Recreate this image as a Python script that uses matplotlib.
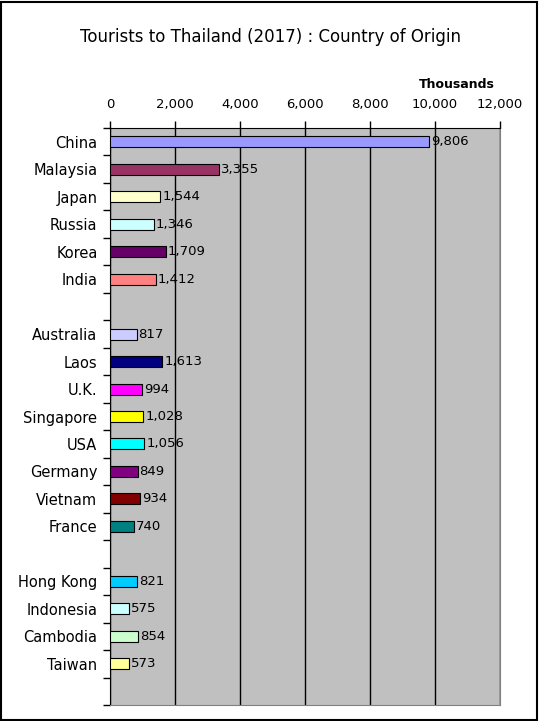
import matplotlib
matplotlib.use("Agg")
import matplotlib.pyplot as plt
from matplotlib.patches import Rectangle

# Categories top to bottom; "" marks an empty slot between groups
countries = ["China", "Malaysia", "Japan", "Russia", "Korea", "India", "",
             "Australia", "Laos", "U.K.", "Singapore", "USA", "Germany",
             "Vietnam", "France", "",
             "Hong Kong", "Indonesia", "Cambodia", "Taiwan", ""]
tourists = [9806, 3355, 1544, 1346, 1709, 1412, None,
            817, 1613, 994, 1028, 1056, 849, 934, 740, None,
            821, 575, 854, 573, None]
colors = ["#9999FF", "#993366", "#FFFFCC", "#CCFFFF", "#660066", "#FF8080", None,
          "#CCCCFF", "#000080", "#FF00FF", "#FFFF00", "#00FFFF", "#800080",
          "#800000", "#008080", None,
          "#00CCFF", "#CCFFFF", "#CCFFCC", "#FFFF99", None]
x_ticks = [0, 2000, 4000, 6000, 8000, 10000, 12000]

plt.rcParams["font.family"] = "DejaVu Sans"

fig = plt.figure(figsize=(5.39, 7.21), dpi=100)
fig.patches.append(Rectangle((0.002, 0.002), 0.994, 0.995, transform=fig.transFigure,
                             fill=False, edgecolor="black", linewidth=1.5))

ax = fig.add_axes([110 / 539, 1 - 705 / 721, 390 / 539, 577 / 721])
ax.set_facecolor("#C0C0C0")

n = len(countries)
for i, (name, val, col) in enumerate(zip(countries, tourists, colors)):
    if val is None:
        continue
    ax.barh(i, val, height=0.4, color=col, edgecolor="black", linewidth=0.8, zorder=3)
    ax.text(val + 60, i, f"{val:,}", va="center", ha="left", fontsize=9.5, zorder=4)

ax.set_ylim(n - 0.5, -0.5)
ax.set_xlim(0, 12000)
ax.set_yticks([i - 0.5 for i in range(n + 1)])
ax.set_yticklabels([])
ax.set_yticks(range(n), minor=True)
ax.set_yticklabels(countries, minor=True, fontsize=10.5)
ax.tick_params(axis="y", which="minor", length=0, pad=9)
ax.tick_params(axis="y", which="major", length=5, width=1, direction="out")

ax.xaxis.tick_top()
ax.set_xticks(x_ticks)
ax.set_xticklabels([f"{v:,}" for v in x_ticks], fontsize=9.5)
ax.tick_params(axis="x", length=5, width=1, direction="out", pad=7)
ax.grid(axis="x", color="black", linewidth=1, zorder=1)

for side in ["top", "left"]:
    ax.spines[side].set_color("black")
for side in ["right", "bottom"]:
    ax.spines[side].set_color("#808080")

fig.text(270 / 539, 1 - 37 / 721, "Tourists to Thailand (2017) : Country of Origin",
         ha="center", va="center", fontsize=12)
fig.text(495 / 539, 1 - 85 / 721, "Thousands", ha="right", va="center",
         fontsize=9, fontweight="bold")

fig.savefig("out.png", dpi=100)
